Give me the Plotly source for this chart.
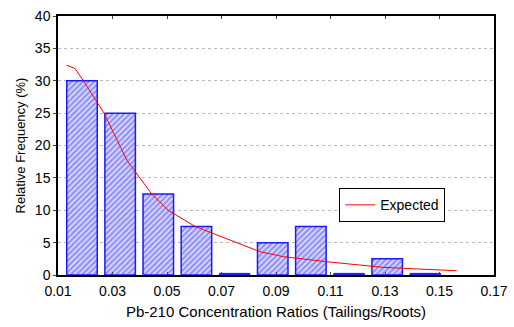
import plotly.graph_objects as go
import numpy as np

# Histogram bins (centres) and relative frequencies (%)
bin_centers = [0.0188, 0.0328, 0.0468, 0.0608, 0.0748, 0.0888, 0.1028, 0.1168, 0.1308, 0.1448]
rel_freq = [30, 25, 12.5, 7.5, 0, 5, 7.5, 0, 2.5, 0]

# Expected curve
exp_x = [0.0132, 0.0162, 0.0193, 0.0269, 0.0353, 0.0444, 0.0504, 0.0603, 0.0841, 0.0927, 0.1086, 0.1293, 0.1563]
exp_y = [32.4, 31.9, 30.0, 25.0, 17.7, 12.5, 10.0, 7.5, 3.6, 2.83, 2.05, 1.18, 0.66]

x_ticks = [0.01, 0.03, 0.05, 0.07, 0.09, 0.11, 0.13, 0.15, 0.17]
y_ticks = [0, 5, 10, 15, 20, 25, 30, 35, 40]

BLUE = "#1a1aff"
bar_width = 0.0112

fig = go.Figure()
fig.add_trace(go.Bar(
    x=bin_centers, y=rel_freq, width=bar_width,
    marker=dict(color="white", line=dict(color=BLUE, width=1.5),
                pattern=dict(shape="/", fgcolor="#3333ff", bgcolor="#f4f4ff", size=4, solidity=0.7)),
    showlegend=False,
))
# zero-count bins shown as a baseline outline
zero_x = [c for c, v in zip(bin_centers, rel_freq) if v == 0]
fig.add_trace(go.Bar(
    x=zero_x, y=[0.25] * len(zero_x), width=bar_width,
    marker=dict(color=BLUE, line=dict(color=BLUE, width=1)),
    showlegend=False,
))
fig.add_trace(go.Scatter(
    x=exp_x, y=exp_y, mode="lines", name="Expected",
    line=dict(color="red", width=1),
))

font = "Liberation Sans, Arial, sans-serif"
fig.update_layout(
    width=514, height=327,
    margin=dict(l=58, r=20, t=16, b=52),
    plot_bgcolor="white", paper_bgcolor="white",
    barmode="overlay",
    font=dict(family=font, size=14, color="black"),
    xaxis=dict(
        range=[0.01, 0.17], tickvals=x_ticks, ticktext=[f"{t:.2f}" for t in x_ticks],
        showgrid=False, zeroline=False, automargin=False,
        showline=True, linecolor="black", linewidth=1.5, mirror="ticks",
        ticks="inside", ticklen=3, tickcolor="#444", ticklabelstandoff=2,
        tickfont=dict(size=14),
        title=dict(text="Pb-210 Concentration Ratios (Tailings/Roots)", font=dict(size=15), standoff=9),
    ),
    yaxis=dict(
        range=[0, 40], tickvals=y_ticks,
        showgrid=True, gridcolor="#bbbbbb", griddash="dot", gridwidth=1,
        zeroline=False, automargin=False,
        showline=True, linecolor="black", linewidth=1.5, mirror=True,
        ticks="outside", ticklen=3, tickcolor="#444",
        tickfont=dict(size=14),
        title=dict(text="Relative Frequency (%)", font=dict(size=13), standoff=6),
    ),
    legend=dict(
        x=0.645, y=0.335, xanchor="left", yanchor="top",
        bgcolor="white", bordercolor="black", borderwidth=1,
        font=dict(size=14), tracegroupgap=0,
    ),
)

fig.write_html("out.html")
